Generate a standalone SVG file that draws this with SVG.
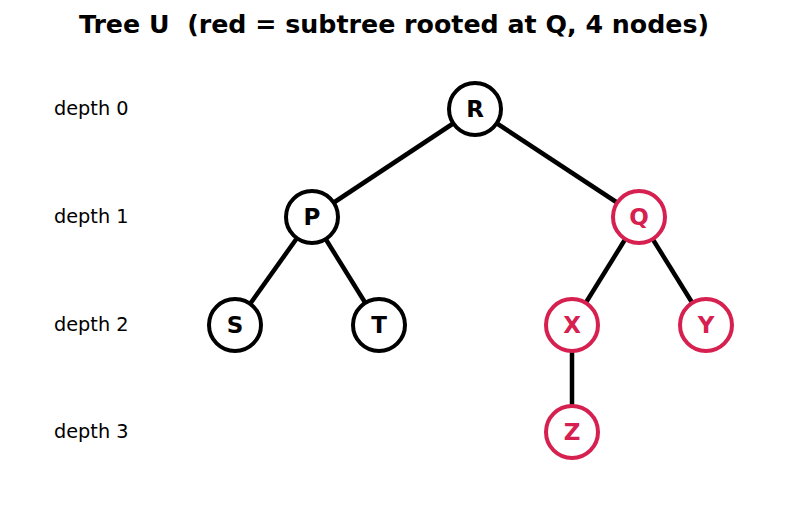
<svg xmlns="http://www.w3.org/2000/svg" width="787" height="511" viewBox="0 0 787 511">
<style>
.t{font-family:"DejaVu Sans",sans-serif;font-weight:bold;font-size:25.3px;fill:#000}
.d{font-family:"DejaVu Sans",sans-serif;font-size:19.3px;fill:#000}
.n circle{fill:#fff;stroke:#000;stroke-width:4}
.n text{font-family:"DejaVu Sans",sans-serif;font-weight:bold;font-size:23px;fill:#000;text-anchor:middle}
.r circle{stroke:#d6204f}
.r text{fill:#d6204f}
#edges line{stroke:#000;stroke-width:4.5}
</style>
<rect width="787" height="511" fill="#fff"/>
<text class="t" x="394" y="33" text-anchor="middle" xml:space="preserve">Tree U  (red = subtree rooted at Q, 4 nodes)</text>
<g id="depths">
<text class="d" x="54" y="115">depth 0</text>
<text class="d" x="54" y="223">depth 1</text>
<text class="d" x="54" y="331">depth 2</text>
<text class="d" x="54" y="438">depth 3</text>
</g>
<g id="edges">
<line x1="475" y1="109" x2="312" y2="217"/>
<line x1="475" y1="109" x2="639" y2="217"/>
<line x1="312" y1="217" x2="235" y2="325"/>
<line x1="312" y1="217" x2="379" y2="325"/>
<line x1="639" y1="217" x2="572" y2="325"/>
<line x1="639" y1="217" x2="706" y2="325"/>
<line x1="572" y1="325" x2="572" y2="432"/>
</g>
<g id="R" class="n"><circle cx="475" cy="109" r="26"/><text x="475" y="117">R</text></g>
<g id="P" class="n"><circle cx="312" cy="217" r="26"/><text x="312" y="225">P</text></g>
<g id="Q" class="n r"><circle cx="639" cy="217" r="26"/><text x="639" y="225">Q</text></g>
<g id="S" class="n"><circle cx="235" cy="325" r="26"/><text x="235" y="333">S</text></g>
<g id="T" class="n"><circle cx="379" cy="325" r="26"/><text x="379" y="333">T</text></g>
<g id="X" class="n r"><circle cx="572" cy="325" r="26"/><text x="572" y="333">X</text></g>
<g id="Y" class="n r"><circle cx="706" cy="325" r="26"/><text x="706" y="333">Y</text></g>
<g id="Z" class="n r"><circle cx="572" cy="432" r="26"/><text x="572" y="440">Z</text></g>
</svg>
